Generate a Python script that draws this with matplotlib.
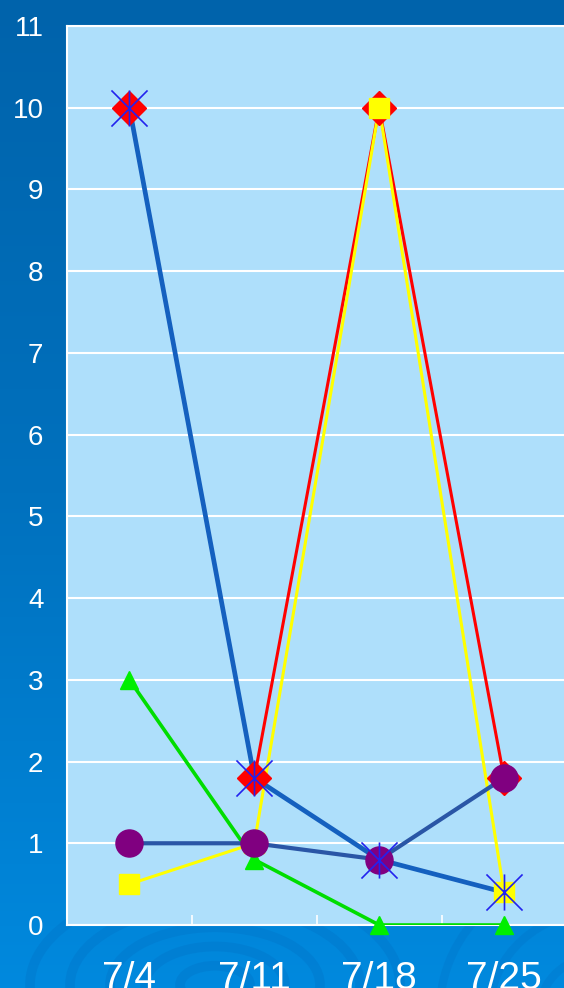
import matplotlib.pyplot as plt
import numpy as np
from matplotlib.colors import LinearSegmentedColormap
from matplotlib.patches import Ellipse
from matplotlib.path import Path

# weekly readings
dates = ['7/4', '7/11', '7/18', '7/25']
diamond_vals = [10, 1.8, 10, 1.8]
square_vals = [0.5, 1, 10, 0.4]
triangle_vals = [3, 0.8, 0, 0]
star_vals = [10, 1.8, 0.8, 0.4]
circle_vals = [1, 1, 0.8, 1.8]
y_ticks = list(range(0, 12))

plt.rcParams['font.family'] = ['Liberation Sans', 'DejaVu Sans']

fig = plt.figure(figsize=(5.64, 9.88), dpi=100)

# slide-style blue background with a couple of faint ripples
bg = fig.add_axes([0, 0, 1, 1], zorder=-5)
bg_cmap = LinearSegmentedColormap.from_list('bg', ['#0063AB', '#0071BE', '#0089DE'])
grad = np.linspace(0, 1, 256).reshape(-1, 1)
bg.imshow(grad, cmap=bg_cmap, aspect='auto', extent=[0, 564, 988, 0])
for w in [70, 140, 210, 290, 370]:
    bg.add_patch(Ellipse((215, 985), w, w * 0.55, fill=False,
                         edgecolor='#0072C6', lw=7, alpha=0.35))
for w in [120, 220, 320]:
    bg.add_patch(Ellipse((600, 1010), w, w * 0.9, fill=False,
                         edgecolor='#0072C6', lw=6, alpha=0.3))
bg.set_xlim(0, 564)
bg.set_ylim(988, 0)
bg.axis('off')

ax = fig.add_axes([67 / 564, 63 / 988, 499.5 / 564, 899 / 988])
ax.set_facecolor('#AEDFFB')
x = np.arange(len(dates))

# lines first, markers on top
ax.plot(x, diamond_vals, color='#FF0000', lw=2.2, zorder=3.1)
ax.plot(x, square_vals, color='#FFFF00', lw=2.2, zorder=3.2)
ax.plot(x, triangle_vals, color='#00DD00', lw=2.6, zorder=3.3)
ax.plot(x, circle_vals, color='#2A56A6', lw=3.0, zorder=3.4)
ax.plot(x, star_vals, color='#1460BF', lw=3.4, zorder=3.5)

asterisk = Path([(-1, -1), (1, 1), (-1, 1), (1, -1), (0, -1), (0, 1)],
                [Path.MOVETO, Path.LINETO, Path.MOVETO, Path.LINETO,
                 Path.MOVETO, Path.LINETO])

ax.plot(x, diamond_vals, ls='none', marker='D', ms=17, color='#FF0000', zorder=4.1)
ax.plot(x, square_vals, ls='none', marker='s', ms=14, color='#FFFF00', zorder=4.2)
ax.plot(x, triangle_vals, ls='none', marker='^', ms=12.5, color='#00EE00',
        zorder=4.3, clip_on=False)
ax.plot(x, circle_vals, ls='none', marker='o', ms=19.5, color='#800080', zorder=4.4)
ax.plot(x, star_vals, ls='none', marker=asterisk, ms=26, mew=1.2,
        mec='#2222EE', mfc='none', zorder=4.5)

ax.set_xlim(-0.5, 3.5)
ax.set_ylim(0, 11)
ax.set_yticks(y_ticks)
ax.set_yticklabels([str(v) for v in y_ticks])
ax.set_xticks(x)
ax.set_xticklabels(dates)
ax.set_xticks([0.5, 1.5, 2.5], minor=True)

ax.grid(axis='y', color='white', lw=1.5, zorder=1)
ax.set_axisbelow(True)
for side in ['left', 'bottom', 'top']:
    ax.spines[side].set_color('white')
    ax.spines[side].set_linewidth(1.5)
ax.spines['right'].set_visible(False)

ax.tick_params(axis='y', length=0, pad=17, labelsize=20, labelcolor='white')
ax.tick_params(axis='x', which='major', length=0, pad=26, labelsize=28,
               labelcolor='white')
ax.tick_params(axis='x', which='minor', direction='in', length=7, width=1.2,
               color='white')

fig.savefig('out.png', dpi=100)
